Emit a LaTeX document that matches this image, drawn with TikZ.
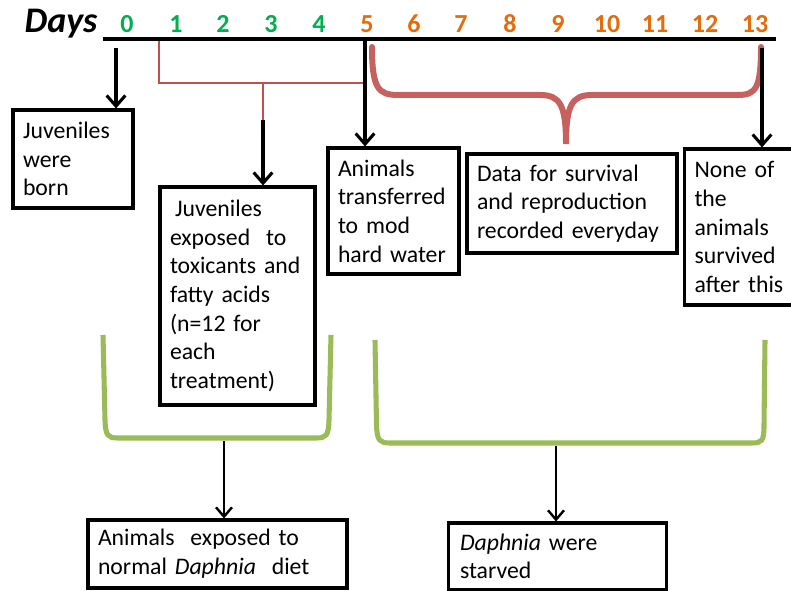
\documentclass[tikz,border=0pt]{standalone}
\usepackage{fontspec}
\setmainfont{Carlito}
\usetikzlibrary{arrows.meta}
\definecolor{dgreen}{RGB}{0,176,80}
\definecolor{dorange}{RGB}{228,108,10}
\definecolor{dred}{RGB}{192,80,77}
\definecolor{lgreen}{RGB}{155,187,89}
\tikzset{
  box/.style={draw=black, line width=2.3pt, fill=white, align=left, inner xsep=7.5pt, inner ysep=0pt, font=\fontsize{17.8}{21.5}\selectfont},
  gnum/.style={anchor=base, text=dgreen, font=\fontsize{19.5}{20}\selectfont\bfseries},
  onum/.style={anchor=base, text=dorange, font=\fontsize{19.5}{20}\selectfont\bfseries},
  arr/.style={draw=black, line width=2.3pt, -{Straight Barb[length=8pt,width=14pt,line width=2.3pt]}},
  thinarr/.style={draw=black, line width=1.8pt, -{Straight Barb[length=7pt,width=12pt,line width=1.8pt]}},
  redthin/.style={draw=dred, line width=1.8pt},
  redbrace/.style={draw=dred!90!white, line width=4.5pt, line cap=round},
  gbracket/.style={draw=lgreen, line width=3.8pt},
}
\begin{document}
\begin{tikzpicture}[x=0.75pt,y=-0.75pt]
\useasboundingbox (0,0) rectangle (791,591);
% axis
\node[anchor=base, font=\fontsize{27}{28}\selectfont\bfseries\itshape] (days) at (61,33) {Days};
\coordinate (axL) at (103,39);
\coordinate (axR) at (776,39);
\draw[line width=3pt] (axL) -- (axR);
\node[gnum] (d0) at (127,33) {0};
\node[gnum] (d1) at (176,33) {1};
\node[gnum] (d2) at (223,33) {2};
\node[gnum] (d3) at (271,33) {3};
\node[gnum] (d4) at (319,33) {4};
\node[onum] (d5) at (367,33) {5};
\node[onum] (d6) at (414,33) {6};
\node[onum] (d7) at (461,33) {7};
\node[onum] (d8) at (510,33) {8};
\node[onum] (d9) at (558,33) {9};
\node[onum] (d10) at (607,33) {10};
\node[onum] (d11) at (655,33) {11};
\node[onum] (d12) at (705,33) {12};
\node[onum] (d13) at (755,33) {13};
% boxes
\node[box, text width=75pt, minimum width=90pt, minimum height=73.5pt] (b1) at (73,159) {Juveniles\\were\\born};
\node[box, text width=101.25pt, minimum width=116.25pt, minimum height=163.5pt] (b2) at (237.5,296) {\hspace{3.8pt}Juveniles\\exposed\ \ to\\toxicants and\\fatty acids\\(n=12 for\\each\\treatment)};
\node[box, text width=83.25pt, minimum width=98.25pt, minimum height=94.5pt, inner xsep=6.5pt] (b3) at (393.5,211) {Animals\\transferred\\to mod\\hard water};
\node[box, text width=142.5pt, minimum width=157.5pt, minimum height=74.25pt] (b4) at (572,203.5) {Data for survival\\and reproduction\\recorded everyday};
\node[box, text width=68.25pt, minimum width=83.25pt, minimum height=117pt] (b5) at (740,227) {None of\\the\\animals\\survived\\after this};
\node[box, text width=179.25pt, minimum width=194.25pt, minimum height=51pt] (b6) at (217.5,554) {Animals\ \ exposed to\\normal \textit{Daphnia}\ \ diet};
\node[box, text width=146.25pt, minimum width=161.25pt, minimum height=50.25pt, inner xsep=8.5pt] (b7) at (557.5,556.5) {\textit{Daphnia} were\\starved};
% arrow day 0
\coordinate (s0) at (116,48);
\draw[arr] (s0) -- (b1.north -| s0);
% red bracket days 1-5
\coordinate (r1a) at (159,41);
\coordinate (r1b) at (159,83);
\coordinate (r1c) at (363,83);
\coordinate (r1s) at (263,83);
\coordinate (r1e) at (263,120);
\draw[redthin] (r1a) -- (r1b) -- (r1c);
\draw[redthin] (r1s) -- (r1e);
\draw[arr] (r1e) -- (b2.north -| r1e);
% day 5 arrow
\coordinate (s5) at (365,40);
\draw[arr] (s5) -- (b3.north -| s5);
% red curly brace days 5-13
\coordinate (cbL) at (372,47);
\coordinate (cbT) at (566,144);
\coordinate (cbR) at (761,47);
\draw[redbrace] (cbL) .. controls (372,88) and (378,95) .. (398,95) -- (540,95)
  .. controls (560,95) and (566,105) .. (cbT)
  .. controls (566,105) and (572,95) .. (592,95) -- (738,95)
  .. controls (756,95) and (761,88) .. (cbR);
% day 13 arrow
\coordinate (s13) at (762,48);
\draw[arr] (s13) -- (b5.north -| s13);
% green brackets
\draw[gbracket] (103,335) -- (105,420) .. controls (105.5,436) and (108,438) .. (118,438) -- (316,438) .. controls (326,438) and (328.5,436) .. (329,420) -- (331,335);
\draw[gbracket] (375,340) -- (376.5,425) .. controls (377,441) and (380,443) .. (390,443) -- (752,443) .. controls (762,443) and (764,441) .. (764,425) -- (765,340);
\coordinate (g1s) at (224,441);
\coordinate (g2s) at (556,446);
\draw[thinarr] (g1s) -- (b6.north -| g1s);
\draw[thinarr] (g2s) -- (b7.north -| g2s);
\end{tikzpicture}
\end{document}
